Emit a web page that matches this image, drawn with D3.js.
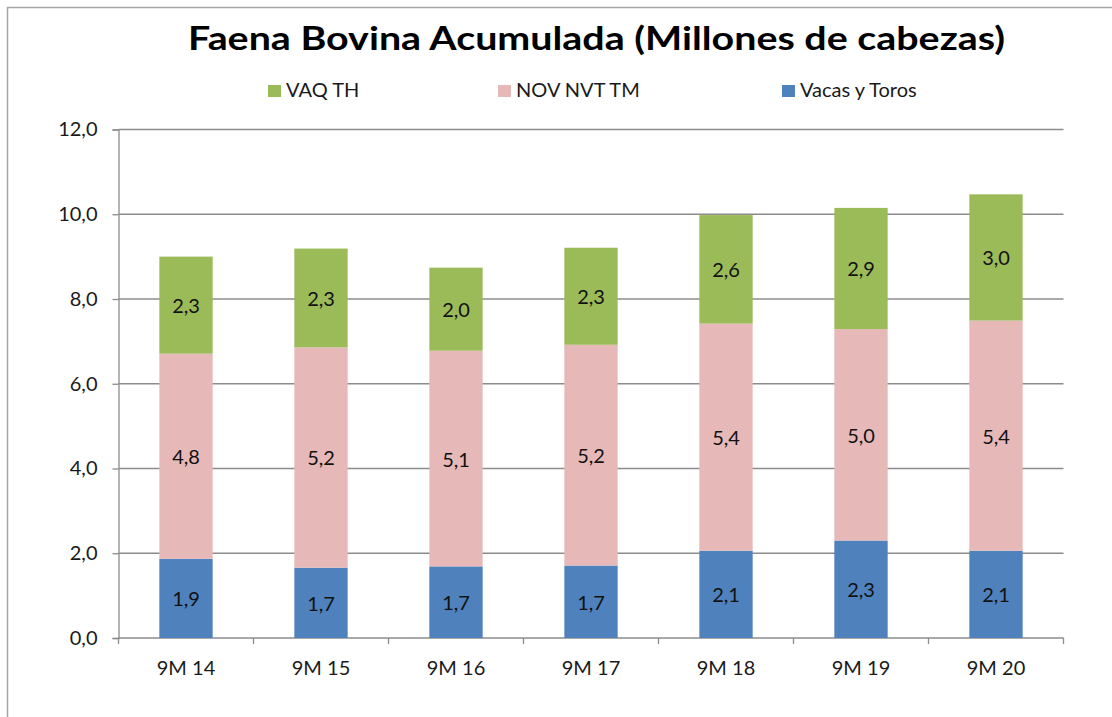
<!DOCTYPE html>
<html>
<head>
<meta charset="utf-8">
<script src="https://cdn.jsdelivr.net/npm/d3@7"></script>
<style>
  body { margin: 0; background: #fff; }
  text { font-family: Lato, "Open Sans", sans-serif; fill: #1a1a1a; }
</style>
</head>
<body>
<div id="chart"></div>
<script>
// periods and series (millones de cabezas)
var periods = ['9M 14', '9M 15', '9M 16', '9M 17', '9M 18', '9M 19', '9M 20'];
var vacasToros = [1.87, 1.66, 1.69, 1.71, 2.06, 2.30, 2.06];
var novNvtTm   = [4.84, 5.20, 5.09, 5.21, 5.36, 4.99, 5.43];
var vaqTh      = [2.29, 2.33, 1.96, 2.29, 2.56, 2.86, 2.98];
var yTicks = [0, 2, 4, 6, 8, 10, 12];

var seriesNames = ['Vacas y Toros', 'NOV NVT TM', 'VAQ TH'];
var colors = {'Vacas y Toros': '#4F81BD', 'NOV NVT TM': '#E6B9B8', 'VAQ TH': '#9BBB59'};

var rows = periods.map((p, i) => ({
    period: p,
    'Vacas y Toros': vacasToros[i],
    'NOV NVT TM': novNvtTm[i],
    'VAQ TH': vaqTh[i]
}));

var width = 1112, height = 717;
var plot = {left: 118.5, right: 1063.5, top: 129.5, bottom: 638};
var fs = 20;

var svg = d3.select('#chart').append('svg')
    .attr('width', width)
    .attr('height', height);

svg.append('rect').attr('width', width).attr('height', height).attr('fill', '#fff');

// outer frame (only top and left visible)
svg.append('path')
    .attr('d', `M7.5,${height} V7.5 H${width}`)
    .attr('fill', 'none')
    .attr('stroke', '#a6a6a6')
    .attr('stroke-width', 1.5);

var xScale = d3.scaleBand()
    .domain(periods)
    .range([plot.left, plot.right])
    .paddingInner(0.605)
    .paddingOuter(0.3025);

var yScale = d3.scaleLinear()
    .domain([0, 12])
    .range([plot.bottom, plot.top]);

var fmt = v => d3.format('.1f')(v).replace('.', ',');

// grid lines
svg.append('g')
    .selectAll('line')
    .data(yTicks.filter(d => d > 0))
    .enter()
    .append('line')
    .attr('x1', plot.left)
    .attr('x2', plot.right)
    .attr('y1', d => yScale(d))
    .attr('y2', d => yScale(d))
    .attr('stroke', '#8c8c8c')
    .attr('stroke-width', 1.3);

// y axis
var yAxis = d3.axisLeft(yScale).tickValues(yTicks).tickSize(6).tickPadding(15).tickFormat(fmt);
var gy = svg.append('g')
    .attr('class', 'y axis')
    .attr('transform', `translate(${plot.left},0)`)
    .call(yAxis);
gy.select('.domain').attr('stroke', '#8c8c8c').attr('stroke-width', 1.3);
gy.selectAll('.tick line').attr('stroke', '#8c8c8c').attr('stroke-width', 1.3);
gy.selectAll('.tick text').attr('font-size', fs).attr('font-family', 'Lato').attr('fill', '#1a1a1a');

// x axis: ticks sit between categories
var step = xScale.step();
var gx = svg.append('g').attr('class', 'x axis');
gx.append('line')
    .attr('x1', plot.left).attr('x2', plot.right)
    .attr('y1', plot.bottom).attr('y2', plot.bottom)
    .attr('stroke', '#8c8c8c').attr('stroke-width', 1.3);
gx.selectAll('.tk')
    .data(d3.range(periods.length + 1))
    .enter()
    .append('line')
    .attr('class', 'tk')
    .attr('x1', i => plot.left + i * step)
    .attr('x2', i => plot.left + i * step)
    .attr('y1', plot.bottom)
    .attr('y2', plot.bottom + 6)
    .attr('stroke', '#8c8c8c').attr('stroke-width', 1.3);
gx.selectAll('.lbl')
    .data(periods)
    .enter()
    .append('text')
    .attr('class', 'lbl')
    .attr('x', d => xScale(d) + xScale.bandwidth() / 2)
    .attr('y', 675)
    .attr('text-anchor', 'middle')
    .attr('font-size', fs)
    .text(d => d);

// stacked bars
var stacked = d3.stack().keys(seriesNames)(rows);

var layers = svg.selectAll('.layer')
    .data(stacked)
    .enter()
    .append('g')
    .attr('class', 'layer')
    .attr('fill', d => colors[d.key]);

layers.selectAll('rect')
    .data(d => d)
    .enter()
    .append('rect')
    .attr('x', d => xScale(d.data.period))
    .attr('y', d => yScale(d[1]))
    .attr('width', xScale.bandwidth())
    .attr('height', d => yScale(d[0]) - yScale(d[1]));

layers.selectAll('text')
    .data(d => d)
    .enter()
    .append('text')
    .attr('x', d => xScale(d.data.period) + xScale.bandwidth() / 2)
    .attr('y', d => (yScale(d[0]) + yScale(d[1])) / 2)
    .attr('dy', '0.4em')
    .attr('text-anchor', 'middle')
    .attr('font-size', fs)
    .style('fill', '#111')
    .text(d => fmt(d[1] - d[0]));

// title
svg.append('text')
    .attr('x', 188)
    .attr('y', 50)
    .attr('font-size', 32)
    .attr('font-weight', 'bold')
    .attr('textLength', 817)
    .attr('lengthAdjust', 'spacingAndGlyphs')
    .style('fill', '#000')
    .text('Faena Bovina Acumulada (Millones de cabezas)');

// legend
var legendItems = [
    {name: 'VAQ TH', x: 268},
    {name: 'NOV NVT TM', x: 498},
    {name: 'Vacas y Toros', x: 782}
];
var legend = svg.selectAll('.legend')
    .data(legendItems)
    .enter()
    .append('g')
    .attr('class', 'legend')
    .attr('transform', d => `translate(${d.x},0)`);
legend.append('rect')
    .attr('y', 85)
    .attr('width', 13)
    .attr('height', 12)
    .attr('fill', d => colors[d.name]);
legend.append('text')
    .attr('x', 18)
    .attr('y', 97)
    .attr('font-size', fs)
    .text(d => d.name);
</script>
</body>
</html>
